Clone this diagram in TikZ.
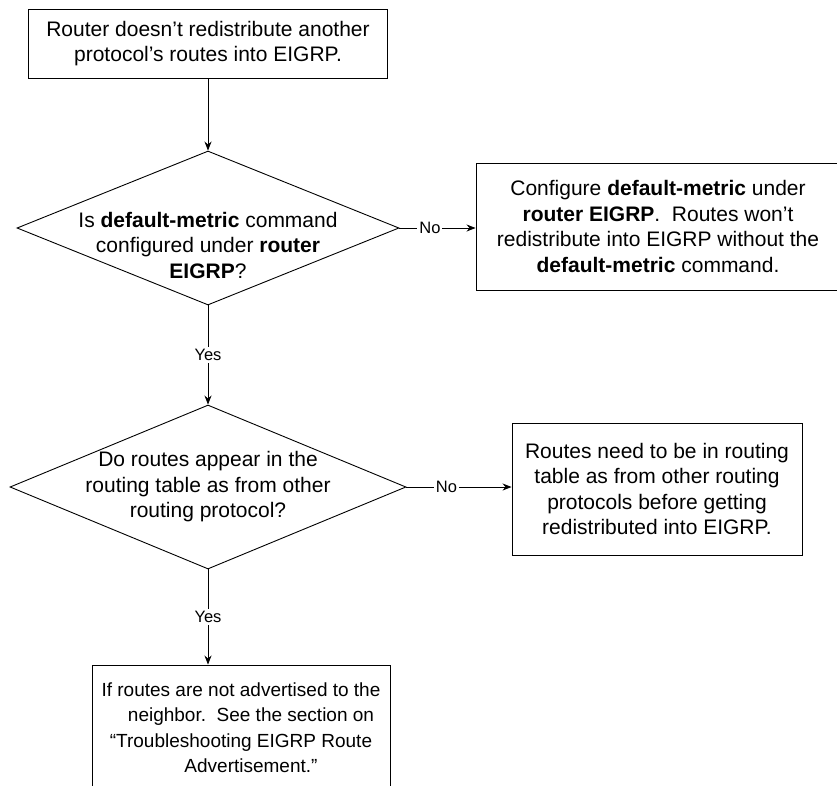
\documentclass[tikz,border=0pt]{standalone}
\usepackage{fontspec}
\setmainfont{Liberation Sans}
\usetikzlibrary{shapes.geometric, arrows.meta, positioning, calc}

\begin{document}
\begin{tikzpicture}[
    x=1pt, y=-1pt,
    every node/.style={font=\fontsize{21}{25.5}\selectfont},
    box/.style={rectangle, draw, line width=0.9pt, align=center, inner sep=0pt},
    decision/.style={diamond, draw, line width=0.9pt, inner sep=0pt},
    question/.style={align=center, inner sep=0pt},
    answer/.style={font=\fontsize{16.5}{18}\selectfont, fill=white, inner sep=2pt},
    flow/.style={-{Stealth[length=9pt, width=7pt]}, line width=0.9pt},
]
    \useasboundingbox (0,0) rectangle (837,785);
    \clip (0,0) rectangle (837,785);
    % Boxes
    \node[box, minimum width=359pt, minimum height=69pt] (start) at (208,43.5)
        {Router doesn’t redistribute another\\protocol’s routes into EIGRP.};
    \node[box, minimum width=364pt, minimum height=127pt] (fix1) at (658,226.5)
        {Configure \textbf{default-metric} under\\\textbf{router EIGRP}.\ \ Routes won’t\\redistribute into EIGRP without the\\\textbf{default-metric} command.};
    \node[box, minimum width=290pt, minimum height=132pt] (fix2) at (657,489)
        {Routes need to be in routing\\table as from other routing\\protocols before getting\\redistributed into EIGRP.};
    \node[box, minimum width=298pt, minimum height=125pt, font=\fontsize{19}{25.5}\selectfont] (advert) at (241,727.5)
        {If routes are not advertised to the\\\hspace*{20pt}neighbor.\ \ See the section on\\“Troubleshooting EIGRP Route\\\hspace*{20pt}Advertisement.”};
    % Decisions
    \node[decision, minimum width=382pt, minimum height=154pt] (check1) at (208,228) {};
    \node[question] (q1) at ([yshift=-17pt]check1.center)
        {Is \textbf{default-metric} command\\configured under \textbf{router}\\\textbf{EIGRP}?};
    \node[decision, minimum width=396pt, minimum height=164pt] (check2) at (208,487) {};
    \node[question] (q2) at (check2.center)
        {Do routes appear in the\\routing table as from other\\routing protocol?};
    % Arrows
    \draw[flow] (start.south) -- (check1.north);
    \draw[flow] (check1.south) -- node[answer] {Yes} (check2.north);
    \draw[flow] (check2.south) -- node[answer] {Yes} (check2.south |- advert.north);
    \draw[flow] (check1.east) -- node[answer, pos=0.4] {No} (check1.east -| fix1.west);
    \draw[flow] (check2.east) -- node[answer, pos=0.38] {No} (check2.east -| fix2.west);
\end{tikzpicture}
\end{document}
